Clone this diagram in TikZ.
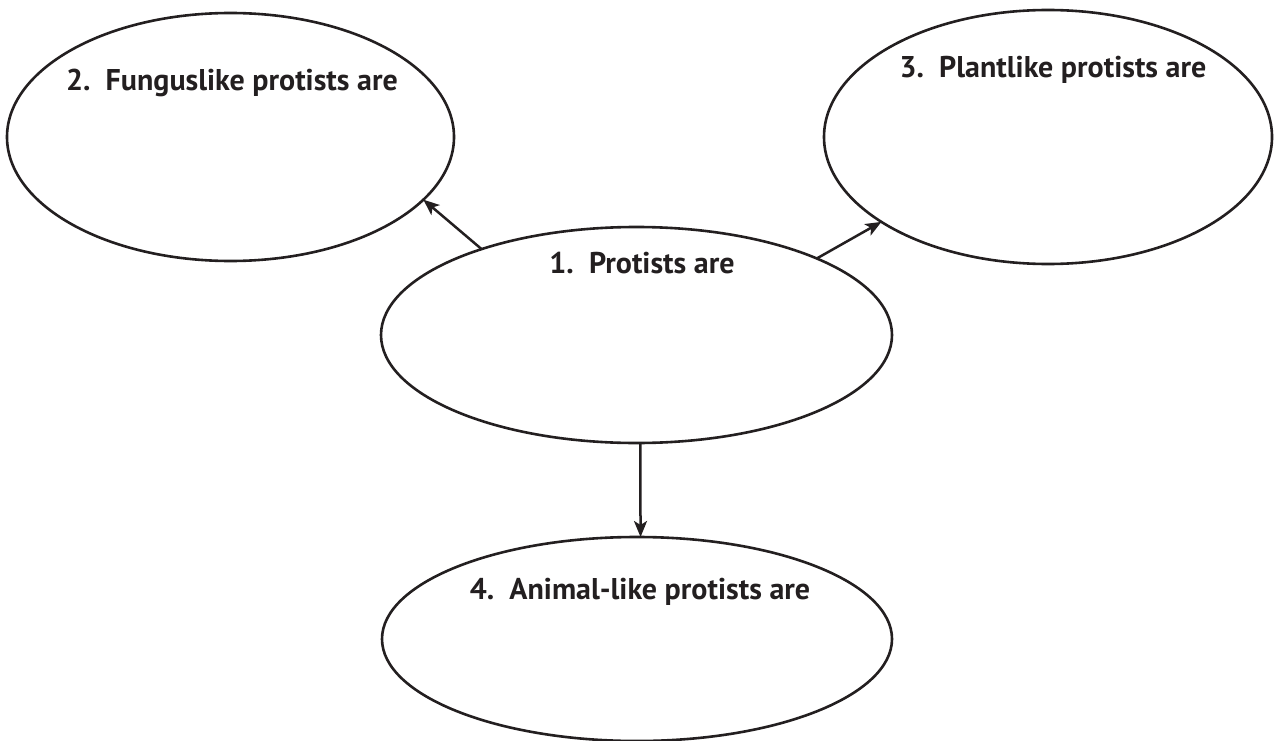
\documentclass[tikz,border=0pt]{standalone}
\usepackage{fontspec}
\setmainfont{PT Sans}
\usetikzlibrary{shapes.geometric,arrows.meta}
\definecolor{ink}{HTML}{231F20}
\tikzset{
  bubble/.style={ellipse, draw=ink, line width=2.6pt, inner sep=0pt, outer sep=0pt},
  heading/.style={font=\fontsize{30}{33}\selectfont\bfseries, text=ink, inner sep=0pt, anchor=base},
  link/.style={draw=ink, line width=2.5pt, -{Stealth[length=16pt, width=13pt, inset=4pt]}}
}
\begin{document}
\begin{tikzpicture}[x=1pt, y=-1pt]
  \path[use as bounding box] (0,0) rectangle (1279,741);

  % four answer bubbles
  \node[bubble, minimum width=511pt, minimum height=216pt] (core)   at (636.5,335) {};
  \node[bubble, minimum width=447pt, minimum height=248pt] (fungus) at (230.5,137) {};
  \node[bubble, minimum width=448pt, minimum height=254pt] (plant)  at (1048,137) {};
  \node[bubble, minimum width=510pt, minimum height=204pt] (animal) at (637,639) {};

  % headings
  \node[heading] (tcore)   at (642,273) {1.\ \ Protists are};
  \node[heading] (tfungus) at (232,91)  {2.\ \ Funguslike protists are};
  \node[heading] (tplant)  at (1053,78) {3.\ \ Plantlike protists are};
  \node[heading] (tanimal) at (640,599) {4.\ \ Animal-like protists are};

  % arrows from the central bubble
  \draw[link] (core.151.7) -- (fungus.-18.5);
  \draw[link] (core.23.4)  -- (plant.207.6);
  \draw[link] (core.-88.7) -- (animal.88.3);
\end{tikzpicture}
\end{document}
